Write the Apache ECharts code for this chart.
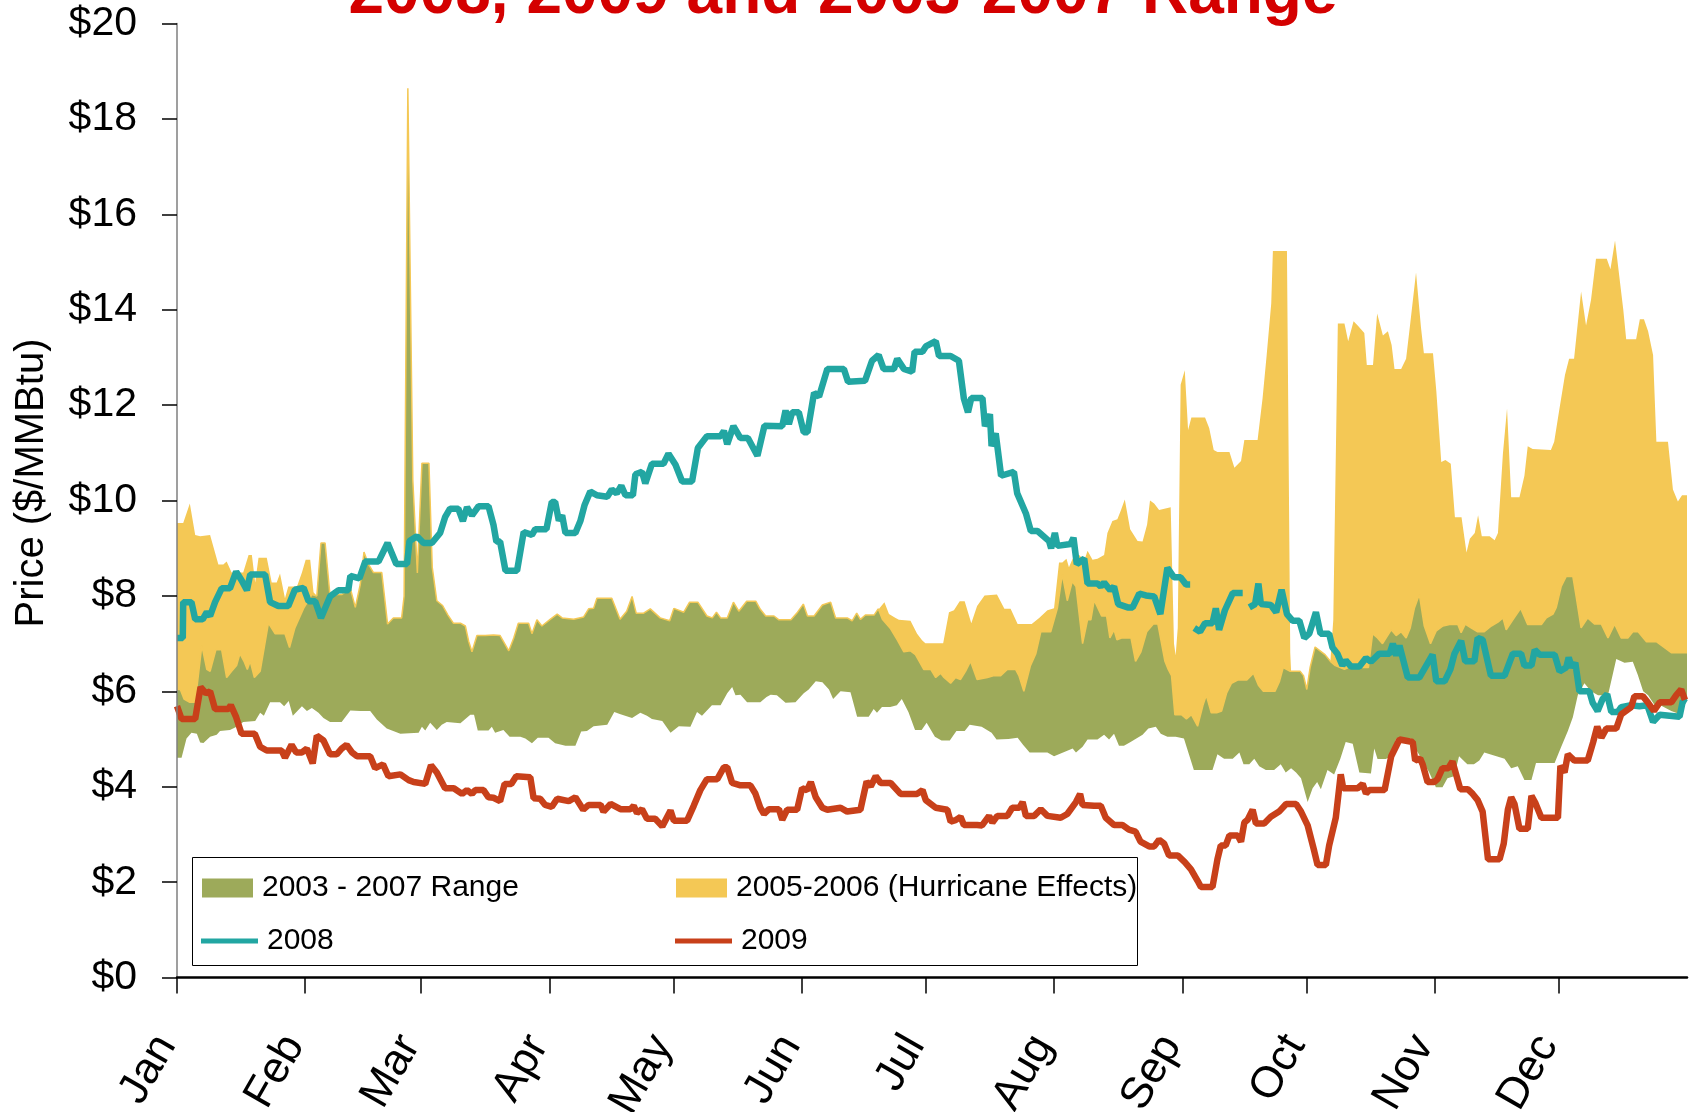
<!DOCTYPE html>
<html>
<head>
<meta charset="utf-8">
<script src="https://cdn.jsdelivr.net/npm/echarts@6/dist/echarts.min.js"></script>
<style>html,body{margin:0;padding:0;background:#fff}#chart{width:1690px;height:1112px}</style>
</head>
<body>
<div id="chart"></div>
<script>
// ---- axis definitions ----
const monthLabels = ['Jan','Feb','Mar','Apr','May','Jun','Jul','Aug','Sep','Oct','Nov','Dec'];
const monthStartDays = [0,31,59,90,120,151,181,212,243,273,304,334];
const yMin = 0, yMax = 20, yStep = 2;

// ---- data: [day of year, $/MMBtu] ----
const range0307High = [[0,6.04],[0.8,6.04],[1.7,5.84],[3.1,5.77],[4.4,5.77],[6.0,6.96],[7.2,6.46],[8.0,6.42],[9.4,6.87],[10.8,6.87],[12.0,6.29],[13.2,6.42],[14.4,6.54],[15.2,6.79],[16.2,6.63],[17.0,6.46],[17.7,6.63],[18.7,6.29],[20.1,6.42],[22.1,7.43],[23.7,7.21],[26.1,7.21],[27.2,6.92],[28.5,7.33],[30.6,7.74],[32.6,8.03],[33.8,8.00],[34.8,9.11],[35.8,9.11],[37.0,7.99],[38.2,8.03],[39.8,8.03],[41.9,8.16],[43.1,7.76],[44.3,8.24],[45.2,8.92],[46.3,8.66],[47.5,8.49],[49.5,8.49],[50.9,7.41],[52.3,7.54],[54.3,7.54],[54.9,8.0],[55.8,18.64],[57.0,10.43],[58.1,8.48],[59.2,10.78],[60.9,10.78],[61.7,8.6],[62.8,7.9],[64.2,7.8],[65.5,7.6],[66.8,7.43],[68.5,7.43],[69.7,7.37],[70.5,7.05],[71.3,6.83],[72.5,7.17],[74.5,7.17],[76.5,7.18],[78.1,7.17],[80.2,6.85],[81.4,7.12],[82.5,7.43],[85.0,7.43],[85.8,7.21],[87.0,7.50],[88.2,7.37],[90.2,7.51],[91.9,7.62],[93.1,7.54],[95.9,7.51],[98.3,7.56],[99.5,7.73],[100.7,7.74],[101.5,7.95],[105.1,7.95],[107.1,7.51],[108.7,7.68],[110.0,7.99],[111.0,7.64],[112.8,7.64],[114.4,7.73],[116.8,7.54],[119.1,7.48],[120.1,7.74],[122.5,7.66],[123.9,7.87],[125.9,7.87],[128.1,7.58],[129.4,7.54],[130.4,7.66],[131.4,7.54],[133.0,7.54],[134.5,7.87],[135.8,7.68],[137.7,7.89],[139.9,7.89],[141.0,7.72],[142.3,7.58],[144.3,7.58],[145.5,7.50],[148.4,7.50],[150.0,7.66],[151.4,7.83],[152.4,7.58],[154.0,7.58],[156.0,7.81],[158.0,7.87],[159.2,7.54],[162.0,7.54],[163.2,7.48],[164.3,7.64],[165.2,7.51],[166.4,7.60],[168.5,7.60],[169.5,7.73],[170.5,7.51],[172.5,7.31],[174.1,7.08],[175.7,6.83],[177.3,6.85],[178.5,6.77],[180.5,6.46],[182.2,6.46],[183.4,6.29],[184.6,6.38],[185.4,6.29],[187.0,6.17],[188.2,6.29],[189.4,6.25],[190.6,6.42],[191.8,6.63],[193.4,6.25],[195.9,6.29],[197.5,6.33],[199.1,6.33],[200.7,6.46],[202.7,6.46],[203.5,6.33],[204.7,6.00],[206.3,6.54],[207.6,6.79],[208.8,7.25],[211.2,7.25],[212.8,7.74],[214.0,8.45],[215.2,7.9],[216.4,8.3],[217.3,8.2],[218.9,7.00],[220.1,7.50],[220.9,7.50],[221.7,7.91],[223.5,7.58],[224.7,7.58],[225.5,7.12],[226.5,7.29],[227.2,7.08],[228.3,7.12],[230.6,7.12],[231.7,6.63],[233.0,6.83],[234.4,7.25],[236.0,7.41],[237.1,7.41],[238.8,6.63],[239.6,6.46],[240.4,6.33],[241.2,5.51],[242.8,5.51],[244.0,5.42],[245.2,5.51],[246.7,5.27],[248.0,5.71],[248.8,5.92],[250.0,5.55],[251.3,5.55],[252.5,5.59],[253.7,5.96],[254.9,6.17],[256.5,6.24],[258.6,6.24],[260.2,6.38],[261.4,6.13],[262.6,6.00],[265.4,6.00],[266.5,6.21],[267.4,6.50],[269.1,6.42],[271.5,6.42],[272.3,6.33],[273.1,6.04],[273.9,6.50],[275.1,6.93],[276.3,6.85],[277.5,6.77],[278.8,6.63],[280.0,6.54],[282.2,6.46],[284.2,6.54],[286.6,6.50],[288.0,6.50],[289.0,7.21],[290.2,7.12],[291.4,7.00],[293.5,7.29],[294.7,7.17],[295.9,7.25],[297.1,7.12],[298.1,7.33],[299.1,7.74],[300.3,8.03],[301.5,7.37],[303.0,7.00],[304.4,7.27],[306.0,7.37],[307.6,7.40],[309.6,7.40],[310.4,7.23],[311.4,7.41],[312.8,7.33],[314.4,7.25],[316.0,7.25],[317.7,7.37],[319.3,7.45],[320.5,7.54],[321.3,7.29],[322.9,7.50],[324.8,7.74],[326.5,7.40],[329.8,7.40],[331.0,7.54],[332.6,7.62],[333.4,7.76],[334.6,8.20],[335.8,8.41],[337.4,8.41],[338.2,7.99],[339.4,7.33],[341.0,7.54],[342.7,7.41],[344.3,7.41],[345.9,7.12],[347.5,7.41],[349.1,7.12],[350.7,7.12],[351.9,7.25],[353.2,7.25],[355.2,7.04],[357.6,7.04],[361.2,6.81],[365,6.81]];

const range0307Low = [[0,4.61],[1.1,4.61],[2.3,5.01],[3.5,5.13],[4.8,5.11],[5.6,4.93],[6.4,4.92],[8.0,5.05],[9.6,5.09],[10.4,5.17],[12.8,5.19],[14.4,5.26],[16.0,5.36],[18.9,5.38],[20.1,5.55],[21.0,5.49],[22.5,5.77],[24.9,5.77],[25.9,5.69],[27.0,5.80],[28.0,5.49],[30.2,5.69],[31.4,5.59],[32.6,5.65],[34.2,5.55],[35.4,5.44],[37.0,5.36],[39.8,5.36],[41.9,5.60],[44.3,5.59],[46.7,5.59],[48.3,5.41],[50.7,5.22],[54.0,5.11],[58.4,5.13],[59.2,5.26],[60.0,5.18],[61.2,5.34],[62.8,5.19],[64.0,5.30],[65.2,5.36],[68.5,5.33],[70.9,5.51],[71.8,5.51],[72.7,5.18],[75.3,5.18],[76.1,5.26],[76.9,5.13],[78.9,5.19],[80.4,5.05],[83.0,5.05],[84.2,5.01],[85.8,4.91],[87.2,5.03],[89.8,5.03],[91.4,4.91],[93.9,4.86],[96.3,4.86],[97.7,5.16],[99.1,5.17],[100.7,5.27],[104.0,5.30],[105.7,5.57],[107.2,5.52],[110.0,5.44],[112.0,5.55],[113.6,5.49],[114.8,5.42],[117.3,5.38],[119.3,5.13],[121.3,5.27],[124.1,5.26],[125.7,5.57],[126.9,5.49],[129.3,5.71],[131.4,5.71],[133.0,5.96],[134.2,6.09],[135.0,5.92],[136.2,5.93],[137.8,5.77],[141.0,5.77],[142.5,5.88],[143.5,5.93],[145.0,5.92],[147.1,5.76],[149.5,5.77],[151.5,5.96],[152.7,6.04],[154.4,6.21],[156.0,6.19],[157.6,6.04],[158.6,5.84],[160.4,6.00],[162.8,5.98],[164.4,5.47],[167.2,5.47],[168.4,5.63],[169.2,5.55],[170.4,5.67],[172.4,5.67],[174.0,5.71],[175.2,5.84],[176.8,5.57],[178.4,5.19],[180.0,5.19],[181.2,5.34],[183.2,5.05],[184.8,4.97],[186.8,4.97],[188.4,5.17],[190.4,5.17],[191.6,5.30],[194.5,5.26],[196.9,5.13],[198.1,4.99],[201.0,5.00],[203.2,5.03],[204.5,4.88],[206.1,4.72],[210.4,4.72],[212.0,4.64],[213.6,4.70],[216.5,4.80],[217.3,4.72],[218.9,4.84],[220.1,4.99],[222.5,4.99],[224.1,5.09],[225.3,4.99],[226.5,5.11],[227.7,4.86],[228.9,4.86],[230.5,4.94],[233.4,5.09],[234.8,5.22],[236.6,5.26],[237.8,5.11],[239.4,5.05],[241.4,5.05],[243.4,5.01],[244.6,4.68],[245.8,4.35],[250.3,4.35],[251.5,4.68],[253.1,4.59],[255.2,4.59],[256.8,4.72],[257.8,4.47],[259.2,4.47],[260.4,4.59],[261.6,4.43],[263.2,4.35],[265.2,4.35],[266.8,4.47],[268.0,4.30],[269.3,4.39],[270.5,4.30],[271.7,4.18],[273.3,3.68],[274.5,3.97],[275.6,4.10],[276.5,3.95],[278.1,4.35],[279.7,4.26],[281.2,4.59],[282.5,4.94],[284.2,4.90],[285.8,4.30],[288.6,4.28],[289.4,4.80],[290.2,4.58],[292.2,4.58],[293.5,4.64],[294.7,5.01],[298.3,5.01],[299.5,4.78],[301.1,4.55],[302.7,4.30],[304.3,3.99],[305.9,3.99],[307.1,4.18],[308.7,4.22],[309.9,4.64],[311.9,4.47],[313.5,4.47],[314.8,4.55],[316.0,4.72],[320.9,4.59],[322.5,4.39],[324.1,4.43],[325.7,4.14],[327.4,4.14],[328.5,4.50],[333.0,4.50],[334.6,4.84],[336.2,5.17],[337.4,5.46],[338.6,5.92],[340.2,6.17],[341.8,6.00],[343.5,5.92],[345.9,5.92],[347.9,6.68],[349.9,6.60],[351.9,6.62],[353.1,6.35],[354.4,6.00],[355.6,5.92],[357.2,5.71],[358.8,5.70],[361.2,5.59],[363.6,5.51],[365,5.84]];

const hurricane0506High = [[0,9.53],[1.5,9.53],[3.1,9.94],[4.4,9.28],[5.6,9.25],[8.0,9.28],[10.0,8.66],[11.2,8.66],[12.0,8.72],[13.2,8.49],[16.0,8.49],[17.3,8.86],[18.1,8.86],[18.9,8.28],[19.7,8.80],[21.7,8.80],[22.9,8.28],[24.1,8.28],[24.9,8.47],[26.1,7.95],[26.9,8.20],[29.0,8.20],[30.2,8.49],[31.1,8.76],[32.2,8.76],[33.0,8.08],[33.8,8.00],[34.3,null],
[169.7,7.73],[171.0,7.87],[172.1,7.62],[173.7,7.54],[174.5,7.50],[177.3,7.48],[178.9,7.21],[180.1,7.07],[180.9,7.01],[185.2,7.01],[186.6,7.66],[187.8,7.70],[189.2,7.89],[190.4,7.89],[192.0,7.43],[193.4,7.79],[195.2,8.01],[198.2,8.03],[200.0,7.73],[201.5,7.73],[203.2,7.41],[206.6,7.41],[208.4,7.54],[210.4,7.70],[212.0,7.74],[213.2,8.70],[214.0,8.70],[215.0,8.78],[215.6,8.6],[216.5,8.78],[218.1,8.86],[219.3,8.74],[220.1,8.95],[221.3,8.76],[222.5,8.78],[224.1,8.86],[224.9,9.32],[226.1,9.57],[227.3,9.61],[228.1,9.78],[229.1,10.02],[230.4,9.40],[232.2,9.15],[233.4,9.14],[234.5,9.50],[235.2,10.00],[236.2,9.94],[237.4,9.80],[240.2,9.86],[241.0,7.0],[241.4,6.75],[241.9,7.33],[242.6,12.43],[243.6,12.73],[244.4,11.48],[245.2,11.74],[248.5,11.74],[249.5,11.52],[250.6,11.06],[251.5,11.02],[254.4,11.02],[255.6,10.69],[257.2,10.83],[258.0,11.27],[261.2,11.27],[262.4,12.14],[263.4,13.05],[264.5,14.13],[264.9,15.23],[268.3,15.23],[269.1,6.8],[269.3,6.42],[271.5,6.42],[272.3,6.33],[273.1,6.04],[273.9,6.50],[275.1,6.93],[276.3,6.85],[277.5,6.77],[278.8,6.63],[279.5,7.5],[280.6,13.71],[282.2,13.71],[283.1,13.34],[284.4,13.76],[285.4,13.67],[286.2,13.59],[287.0,13.51],[287.6,12.84],[289.1,12.84],[290.1,13.92],[291.5,13.46],[292.7,13.55],[293.6,13.26],[294.3,12.76],[295.9,12.76],[297.1,12.97],[298.1,13.71],[299.5,14.78],[300.7,13.63],[301.4,13.09],[303.6,13.09],[304.4,12.30],[305.6,10.81],[306.6,10.85],[307.9,10.77],[308.9,9.65],[310.5,9.65],[311.7,8.91],[312.5,9.20],[313.7,9.32],[314.5,9.69],[315.4,9.25],[317.3,9.25],[318.5,9.17],[319.3,9.32],[320.5,10.98],[321.5,11.93],[322.5,10.07],[324.5,10.07],[325.7,10.52],[326.5,11.14],[327.7,11.08],[332.1,11.06],[332.9,11.23],[334.1,11.89],[335.5,12.63],[336.5,12.97],[337.7,12.97],[339.4,14.38],[340.6,13.67],[341.8,14.21],[343.0,15.07],[345.6,15.07],[346.5,14.85],[347.6,15.45],[349.6,14.0],[350.3,13.38],[352.7,13.38],[353.6,13.80],[354.6,13.80],[355.6,13.55],[356.8,13.05],[357.6,11.23],[360.4,11.23],[361.6,10.23],[362.8,9.98],[363.8,10.11],[365,10.11]];

const price2008 = [[0,7.12],[1.4,7.12],[1.5,7.87],[3.5,7.87],[4.4,7.51],[6.2,7.51],[7.2,7.66],[8.0,7.58],[9.2,7.87],[10.8,8.16],[12.8,8.16],[14.3,8.51],[15.6,8.33],[16.9,8.12],[17.7,8.45],[21.3,8.45],[22.5,7.87],[24.5,7.79],[26.9,7.79],[28.5,8.13],[30.6,8.17],[31.8,7.89],[33.4,7.89],[34.8,7.54],[37.0,7.99],[39.0,8.12],[41.4,8.12],[41.9,8.42],[44.1,8.37],[45.5,8.72],[48.7,8.72],[50.9,9.11],[53.0,8.67],[55.6,8.67],[56.2,9.15],[58.0,9.25],[59.6,9.11],[61.6,9.11],[63.6,9.32],[64.8,9.65],[66.0,9.83],[68.0,9.83],[69.1,9.57],[70.1,9.86],[71.3,9.69],[72.9,9.88],[75.3,9.88],[76.5,9.49],[77.2,9.14],[78.1,9.14],[79.4,8.53],[82.2,8.53],[83.8,9.34],[85.8,9.28],[86.6,9.40],[89.3,9.40],[90.6,9.97],[91.4,9.97],[92.3,9.58],[93.1,9.69],[93.9,9.32],[96.3,9.32],[97.5,9.57],[98.5,9.90],[99.9,10.19],[101.5,10.11],[104.0,10.08],[105.1,10.23],[106.3,10.15],[107.4,10.31],[108.4,10.11],[110.2,10.11],[110.8,10.55],[112.4,10.60],[113.2,10.36],[114.8,10.77],[117.6,10.77],[118.8,10.98],[120.5,10.75],[122.1,10.40],[124.5,10.40],[125.9,11.10],[128.1,11.35],[131.4,11.35],[132.2,11.46],[133.0,11.18],[134.5,11.56],[136.2,11.31],[138.0,11.31],[140.3,10.94],[142.0,11.57],[146.3,11.56],[147.1,11.89],[147.9,11.60],[148.7,11.85],[150.3,11.85],[151.5,11.43],[152.4,11.43],[154.0,12.26],[155.2,12.18],[157.2,12.76],[161.2,12.76],[162.2,12.49],[166.3,12.51],[168.0,12.93],[169.6,13.05],[170.8,12.76],[173.3,12.76],[174.1,12.97],[175.7,12.76],[177.7,12.70],[178.3,13.12],[180.2,13.12],[181.0,13.23],[183.4,13.34],[184.2,13.03],[187.0,13.03],[189.0,12.93],[190.2,12.14],[191.2,11.85],[192.0,12.15],[194.7,12.15],[195.3,11.56],[196.5,11.81],[196.9,11.14],[197.9,11.41],[199.2,10.52],[202.3,10.60],[203.1,10.15],[205.2,9.73],[206.4,9.36],[208.0,9.36],[210.8,9.15],[211.3,9.00],[212.2,9.32],[212.8,9.05],[216.0,9.09],[216.7,9.22],[217.5,8.67],[219.3,8.78],[220.1,8.26],[222.5,8.26],[223.3,8.20],[224.1,8.28],[225.6,8.12],[226.5,8.20],[227.5,7.83],[229.8,7.76],[231.0,7.76],[232.6,8.05],[234.2,8.01],[236.2,7.99],[237.7,7.62],[239.4,8.59],[241.0,8.39],[242.6,8.39],[243.9,8.24],[244.9,8.24],[245.4,null],[245.9,7.33],[247.3,7.25],[248.5,7.43],[250.3,7.43],[251.1,7.74],[251.9,7.29],[253.3,7.70],[255.2,8.06],[257.6,8.06],[258.4,null],[259.2,7.76],[260.6,7.83],[261.4,8.26],[262.0,7.83],[264.4,7.81],[265.7,7.66],[267.0,8.13],[268.3,7.62],[269.7,7.48],[271.3,7.48],[272.5,7.12],[273.7,7.21],[275.3,7.66],[276.4,7.21],[278.5,7.21],[279.3,6.92],[280.5,6.79],[281.7,6.54],[282.5,6.65],[283.8,6.52],[285.8,6.52],[287.4,6.70],[288.6,6.62],[290.6,6.79],[293.1,6.79],[293.9,7.00],[294.7,6.75],[295.5,6.96],[297.5,6.29],[300.3,6.29],[303.5,6.77],[304.4,6.21],[306.4,6.21],[307.8,6.46],[308.8,6.79],[310.4,7.06],[311.4,6.63],[313.6,6.63],[314.4,7.12],[315.6,7.08],[317.6,6.33],[320.9,6.33],[322.9,6.79],[324.9,6.79],[325.7,6.54],[327.4,6.54],[328.2,6.87],[329.4,6.77],[333.0,6.77],[334.2,6.42],[335.8,6.50],[336.4,6.71],[337.2,6.50],[338.0,6.60],[339.0,6.00],[341.4,6.00],[342.2,5.76],[343.4,5.59],[344.6,5.84],[345.7,5.94],[346.7,5.57],[348.3,5.57],[349.1,5.67],[351.5,5.71],[353.5,5.69],[355.4,5.71],[356.8,5.36],[358.4,5.51],[363.2,5.47],[364.0,5.80],[364.8,5.76]];

const price2009 = [[0,5.69],[1.1,5.42],[4.4,5.42],[5.7,6.09],[7.0,5.96],[8.0,6.00],[9.2,5.63],[12.4,5.63],[13.0,5.71],[14.3,5.46],[15.6,5.11],[18.8,5.11],[20.1,4.84],[21.7,4.76],[25.3,4.76],[26.1,4.61],[27.7,4.88],[28.8,4.72],[30.2,4.72],[31.4,4.80],[32.8,4.49],[33.8,5.07],[35.4,4.97],[37.0,4.68],[38.6,4.68],[39.8,4.80],[41.0,4.88],[42.3,4.72],[43.5,4.64],[46.7,4.64],[47.9,4.39],[49.8,4.47],[51.1,4.22],[54.0,4.26],[56.0,4.14],[57.2,4.10],[60.0,4.06],[61.4,4.45],[62.8,4.30],[64.8,3.97],[66.9,3.97],[68.9,3.85],[70.1,3.93],[71.3,3.85],[72.1,3.93],[74.1,3.93],[75.3,3.78],[76.5,3.77],[78.1,3.70],[79.2,4.06],[80.8,4.06],[82.0,4.22],[85.4,4.20],[86.2,3.76],[87.8,3.75],[89.0,3.62],[90.6,3.58],[91.9,3.75],[94.7,3.70],[96.3,3.78],[98.2,3.52],[99.5,3.62],[102.4,3.62],[103.1,3.48],[104.8,3.64],[107.2,3.53],[109.6,3.53],[110.4,3.60],[111.2,3.45],[112.4,3.53],[113.6,3.33],[115.6,3.33],[117.3,3.17],[119.3,3.50],[120.1,3.29],[123.3,3.29],[124.9,3.60],[126.5,3.93],[128.1,4.16],[130.6,4.16],[132.2,4.41],[133.0,4.41],[134.2,4.08],[136.2,4.03],[138.6,4.03],[139.8,3.86],[141.0,3.56],[141.9,3.43],[143.1,3.53],[145.5,3.53],[146.3,3.31],[147.5,3.52],[149.9,3.52],[151.1,3.97],[152.3,3.93],[153.2,4.10],[154.4,3.78],[156.0,3.56],[157.2,3.52],[160.4,3.56],[162.0,3.48],[165.2,3.52],[166.7,4.11],[167.7,4.01],[168.9,4.22],[170.1,4.08],[172.5,4.08],[174.9,3.85],[178.9,3.85],[180.2,3.93],[181.0,3.72],[183.4,3.56],[186.2,3.52],[187.0,3.27],[188.2,3.30],[189.4,3.37],[190.2,3.20],[193.4,3.20],[194.6,3.19],[196.3,3.39],[197.1,3.25],[198.3,3.39],[200.7,3.39],[201.9,3.56],[203.6,3.56],[204.4,3.68],[205.2,3.39],[207.2,3.39],[208.8,3.53],[210.4,3.39],[213.6,3.35],[215.2,3.43],[217.3,3.68],[218.3,3.85],[218.9,3.62],[221.7,3.60],[223.3,3.60],[224.5,3.35],[226.5,3.20],[228.5,3.20],[230.1,3.10],[231.7,3.06],[232.9,2.85],[235.0,2.75],[236.2,2.75],[237.4,2.89],[238.6,2.81],[239.8,2.56],[241.9,2.56],[243.6,2.42],[245.1,2.27],[246.7,2.03],[247.5,1.90],[250.3,1.90],[251.5,2.48],[252.3,2.77],[253.5,2.77],[254.4,2.98],[256.4,2.98],[257.2,2.85],[258.0,3.25],[258.8,3.31],[260.0,3.52],[260.8,3.23],[262.8,3.23],[264.4,3.37],[266.4,3.48],[268.1,3.64],[270.5,3.64],[271.7,3.48],[273.3,3.19],[274.9,2.65],[275.7,2.36],[277.7,2.36],[278.5,2.77],[280.1,3.35],[281.3,4.26],[281.9,3.97],[285.4,3.97],[286.6,4.06],[287.4,3.86],[288.2,3.93],[291.9,3.93],[293.5,4.64],[295.5,4.99],[298.7,4.94],[299.3,4.55],[300.5,4.59],[301.1,4.47],[302.3,4.10],[303.9,4.10],[304.7,4.16],[305.9,4.39],[307.3,4.39],[308.3,4.53],[310.2,3.95],[312.0,3.95],[313.2,3.85],[314.4,3.72],[315.6,3.48],[316.9,2.48],[319.7,2.48],[320.7,2.81],[321.7,3.52],[322.5,3.78],[323.3,3.64],[324.5,3.12],[326.5,3.12],[327.4,3.81],[328.3,3.67],[329.8,3.35],[333.8,3.35],[334.4,4.44],[335.4,4.30],[336.2,4.68],[337.8,4.55],[341.0,4.55],[342.3,4.93],[343.3,5.26],[344.3,5.03],[345.5,5.22],[347.9,5.22],[349.1,5.52],[351.5,5.67],[352.3,5.90],[354.3,5.90],[355.6,5.76],[357.0,5.59],[358.4,5.77],[361.2,5.77],[362.4,5.92],[363.6,6.04],[364.5,5.82]];

// ---- styling ----
const FONT = "'Liberation Sans', Arial, sans-serif";
const GREEN = '#9DAA5A', YELLOW = '#F4C855', TEAL = '#22A6A2', RED = '#C8401A';

const chart = echarts.init(document.getElementById('chart'), null, {renderer: 'canvas'});

function legendBox(name, color, left, top, w, h) {
  return {
    data: [{name: name, icon: 'rect', itemStyle: {color: color, borderWidth: 0}}],
    left: left, top: top, itemWidth: w, itemHeight: h, padding: 0,
    selectedMode: false,
    itemStyle: {borderWidth: 0},
    textStyle: {fontFamily: FONT, fontSize: 30, color: '#000', padding: [0, 0, 0, 4]}
  };
}

const option = {
  animation: false,
  backgroundColor: '#fff',
  grid: {left: 177, right: 3, top: 23.5, bottom: 134.4, containLabel: false, outerBoundsMode: 'none'},
  xAxis: {
    type: 'value', min: 0, max: 365, z: 10,
    splitLine: {show: false},
    axisLine: {show: true, onZero: false, lineStyle: {color: '#000', width: 2.5}},
    axisTick: {show: true, customValues: monthStartDays, length: 16, lineStyle: {color: '#000', width: 1.5}},
    axisLabel: {
      customValues: monthStartDays, rotate: 60, margin: 42,
      fontFamily: FONT, fontSize: 44, color: '#000', padding: [0, 22, 0, 0],
      formatter: v => monthLabels[monthStartDays.indexOf(v)] || ''
    }
  },
  yAxis: {
    type: 'value', min: yMin, max: yMax, interval: yStep, z: 10,
    splitLine: {show: false},
    axisLine: {show: true, lineStyle: {color: '#7f7f7f', width: 1.5}},
    axisTick: {show: true, length: 15, lineStyle: {color: '#000', width: 1.5}},
    axisLabel: {margin: 40, fontFamily: FONT, fontSize: 41, color: '#000', formatter: v => '$' + v}
  },
  legend: [
    legendBox('2003 - 2007 Range', GREEN, 202, 873, 51, 19),
    legendBox('2005-2006 (Hurricane Effects)', YELLOW, 676, 873, 51, 19),
    legendBox('2008', TEAL, 201, 926, 57, 5),
    legendBox('2009', RED, 675, 926, 57, 5)
  ],
  graphic: [
    {type: 'text', z: 100, x: 843, y: -5,
     style: {text: '2008, 2009 and 2003-2007 Range', fill: '#D40000', font: 'bold 64px ' + FONT, align: 'center', verticalAlign: 'middle'}},
    {type: 'text', z: 100, x: 32, y: 483, rotation: Math.PI / 2,
     style: {text: 'Price ($/MMBtu)', fill: '#000', font: '40px ' + FONT, align: 'center', verticalAlign: 'middle'}},
    {type: 'rect', z: 100, shape: {x: 192.5, y: 857.5, width: 945, height: 108},
     style: {fill: 'none', stroke: '#000', lineWidth: 1}}
  ],
  series: [
    {name: '2005-2006 (Hurricane Effects)', type: 'line', data: hurricane0506High, symbol: 'none', z: 1,
     connectNulls: false, lineStyle: {width: 0, color: YELLOW}, itemStyle: {color: YELLOW},
     areaStyle: {color: YELLOW, opacity: 1}},
    {name: '2003 - 2007 Range', type: 'line', data: range0307High, symbol: 'none', z: 2,
     lineStyle: {width: 1.5, color: YELLOW}, itemStyle: {color: GREEN},
     areaStyle: {color: GREEN, opacity: 1}},
    {name: 'range-low', type: 'line', data: range0307Low, symbol: 'none', z: 3,
     lineStyle: {width: 0, color: '#fff'}, itemStyle: {color: '#fff'},
     areaStyle: {color: '#fff', opacity: 1}},
    {name: '2008', type: 'line', data: price2008, symbol: 'none', z: 5, connectNulls: false,
     lineStyle: {width: 6.5, color: TEAL}, itemStyle: {color: TEAL}},
    {name: '2009', type: 'line', data: price2009, symbol: 'none', z: 5,
     lineStyle: {width: 6.5, color: RED}, itemStyle: {color: RED}}
  ]
};
chart.setOption(option);
</script>
</body>
</html>
